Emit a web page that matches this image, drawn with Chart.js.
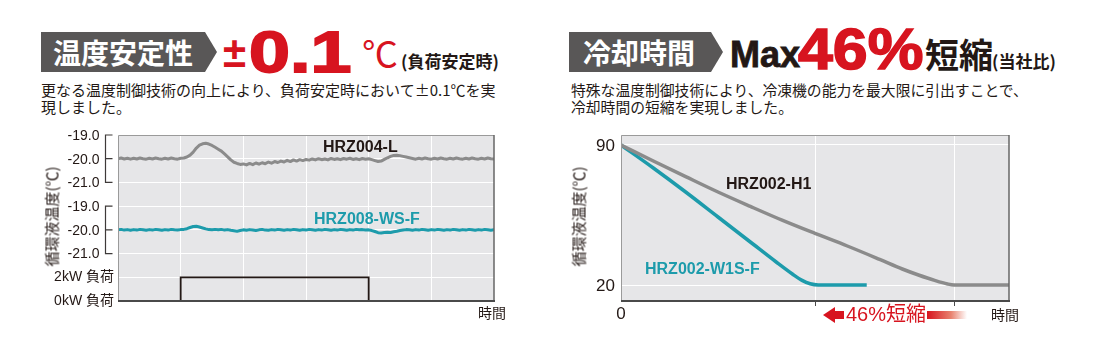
<!DOCTYPE html>
<html lang="ja">
<head>
<meta charset="utf-8">
<title>温度安定性・冷却時間</title>
<script src="https://cdn.jsdelivr.net/npm/chart.js@4.4.1/dist/chart.umd.min.js"></script>
<style>
  html, body { margin: 0; padding: 0; background: #fff; }
  #page { position: relative; width: 1100px; height: 355px; overflow: hidden; color: #231815;
          font-family: "Noto Sans CJK JP", sans-serif; }
  .abs { position: absolute; white-space: nowrap; line-height: 1; }
  canvas { position: absolute; top: 120px; }
  .tag { position: absolute; top: 32px; height: 40px; background: #595757; color: #fff; font-weight: 700;
         font-size: 28px; line-height: 40px; box-sizing: border-box;
         clip-path: polygon(0 0, calc(100% - 12px) 0, 100% 50%, calc(100% - 12px) 100%, 0 100%); }
  .big { font-family: "Liberation Sans", Arial, sans-serif; font-weight: 700; transform-origin: left center; }
  .red { color: #d7141f; }
  .desc { position: absolute; top: 82px; font-size: 15px; line-height: 16.5px; white-space: nowrap; }
  .ytitle { position: absolute; width: 110px; height: 15px; line-height: 15px; font-size: 15px;
            text-align: center; transform: rotate(-90deg); white-space: nowrap; }
  .lbl { position: absolute; font-family: "Liberation Sans", Arial, sans-serif; font-weight: 700;
         font-size: 16px; line-height: 1; white-space: nowrap; }
</style>
</head>
<body>
<div id="page">
  <canvas id="stabilityChart" width="550" height="235" style="left:0"></canvas>
  <canvas id="coolingChart" width="550" height="235" style="left:550px"></canvas>

  <!-- 左：温度安定性 -->
  <div class="tag" style="left:41px; width:176px; padding-left:12px;">温度安定性</div>
  <div class="abs red" style="left:223px; top:32px; font-size:42px; font-weight:700; font-family:'Liberation Sans',Arial,sans-serif;">±</div>
  <div class="abs big red" style="left:249px; top:23px; font-size:58px; transform:scaleX(1.27); -webkit-text-stroke:1.8px #d7141f;">0.1</div>
  <div class="abs red" style="left:362px; top:34px; font-size:36px;">℃</div>
  <div class="abs" style="left:401px; top:52px; font-size:17px; font-weight:700;">(負荷安定時)</div>
  <div class="desc" style="left:41px;">更なる温度制御技術の向上により、負荷安定時において±0.1℃を実<br>現しました。</div>
  <div class="ytitle" style="left:-4px; top:209px;">循環液温度(℃)</div>
  <div class="lbl" style="left:323px; top:139px;">HRZ004-L</div>
  <div class="lbl" style="left:314px; top:211px; color:#1d9bab;">HRZ008-WS-F</div>
  <div class="abs" style="left:478px; top:305px; font-size:14px;">時間</div>

  <!-- 右：冷却時間 -->
  <div class="tag" style="left:569px; width:154px; padding-left:14px;">冷却時間</div>
  <div class="abs big" style="left:730px; top:37px; font-size:36px; -webkit-text-stroke:0.8px #231815;">Max</div>
  <div class="abs big red" style="left:798px; top:21px; font-size:57px; transform:scaleX(1.1); -webkit-text-stroke:1.5px #d7141f;">46%</div>
  <div class="abs" style="left:925px; top:37px; font-size:34px; font-weight:700;">短縮</div>
  <div class="abs" style="left:992px; top:52px; font-size:17px; font-weight:700;">(当社比)</div>
  <div class="desc" style="left:571px; font-size:14.8px;">特殊な温度制御技術により、冷凍機の能力を最大限に引出すことで、<br>冷却時間の短縮を実現しました。</div>
  <div class="ytitle" style="left:523px; top:209px;">循環液温度(℃)</div>
  <div class="lbl" style="left:726px; top:176px;">HRZ002-H1</div>
  <div class="lbl" style="left:645px; top:261px; color:#1d9bab;">HRZ002-W1S-F</div>
  <div style="position:absolute; left:823px; top:307px; width:0; height:0; border-right:12px solid #d7141f; border-top:8px solid transparent; border-bottom:8px solid transparent;"></div>
  <div style="position:absolute; left:834px; top:311px; width:10px; height:8px; background:#d7141f;"></div>
  <div class="abs red" style="left:846px; top:304px; font-size:20px; font-family:'Liberation Sans','Noto Sans CJK JP',sans-serif;">46%短縮</div>
  <div style="position:absolute; left:927px; top:311px; width:40px; height:8px; background:linear-gradient(to right, #d7141f, #e8826f 60%, #ffffff);"></div>
  <div class="abs" style="left:991px; top:307px; font-size:14px;">時間</div>
</div>

<script>
// ---------------------------- データ：温度安定性 (0.5目盛ごとのサンプル) ----------------------------
const hrz004L = [
  -20.00, -19.97, -20.01, -19.98, -20.02, -19.98, -20.01, -19.97, -20.00, -20.02,
  -19.98, -20.01, -19.97, -20.00, -20.02, -19.98, -20.01, -19.97, -20.00, -20.02,
  -19.98,
  -19.97, -19.93, -19.85, -19.72, -19.55, -19.43, -19.37, -19.35, -19.38, -19.44,
  -19.52, -19.60, -19.68, -19.80, -19.92, -20.05, -20.15, -20.20, -20.24, -20.22,
  -20.26, -20.20, -20.25, -20.18, -20.23, -20.17, -20.21, -20.14, -20.19, -20.12,
  -20.16, -20.10, -20.14, -20.07, -20.12, -20.05, -20.10, -20.04, -20.08, -20.03,
  -20.06, -20.01, -20.05, -20.00, -20.04, -20.01, -20.05, -19.99, -20.03, -20.00,
  -20.04, -19.99, -20.02, -19.98, -20.03, -20.00, -20.04, -19.99, -20.02, -20.00,
  -20.04, -20.08, -20.12, -20.10, -20.03, -19.96, -19.90, -19.86, -19.85, -19.87,
  -19.90, -19.93, -19.96, -19.99, -20.02, -19.98, -20.01, -19.97, -20.00, -20.02,
  -19.98, -20.01, -19.97, -20.00, -20.02, -19.98, -20.01, -19.97, -20.00, -20.02,
  -19.98, -20.01, -19.97, -20.00, -20.02, -19.98, -20.01, -19.97, -20.00, -20.01
];
const hrz008WSF = [
  -20.00, -19.98, -20.01, -19.99, -20.02, -19.99, -20.01, -19.98, -20.00, -20.02,
  -19.99, -20.01, -19.98, -20.00, -20.02, -19.99, -20.01, -19.98, -20.00, -20.01,
  -19.99,
  -19.98, -19.95, -19.90, -19.86, -19.85, -19.88, -19.92, -19.96, -19.99, -20.00,
  -19.98, -20.00, -19.98, -20.01, -19.99, -20.02, -20.04, -20.06, -20.03, -20.00,
  -20.02, -19.99, -20.01, -20.03, -20.00, -19.98, -20.01, -20.02, -19.99, -20.01,
  -19.98, -20.00, -20.02, -19.99, -20.01, -19.98, -20.00, -20.02, -19.99, -20.01,
  -19.98, -20.00, -20.02, -19.99, -20.01, -19.98, -20.00, -20.02, -19.99, -20.01,
  -19.98, -20.00, -20.02, -19.99, -20.01, -19.98, -20.00, -19.99, -20.01, -20.00,
  -20.03, -20.07, -20.12, -20.13, -20.11, -20.10, -20.11, -20.08, -20.06, -20.03,
  -20.01, -19.99, -20.00, -20.02, -19.99, -20.01, -19.98, -20.00, -20.02, -19.99,
  -20.01, -19.98, -20.00, -20.02, -19.99, -20.01, -19.98, -20.00, -20.02, -19.99,
  -20.01, -19.98, -20.00, -20.02, -19.99, -20.01, -19.98, -20.00, -20.02, -20.00
];
const loadTimes = [0, 20, 80, 120];   // サンプル番号
const loadKw = [0, 2, 0, 0];
const tempTicks = [-21.0, -20.0, -19.0];
const loadTicks = [0, 2];
const loadTickLabels = ['0kW 負荷', '2kW 負荷'];
const upperOffset = 26;   // HRZ004-L の帯
const lowerOffset = 23;   // HRZ008-WS-F の帯

// ---------------------------- データ：冷却時間 ----------------------------
const h1Times = [0, 10, 20, 30, 40, 50, 60, 70, 80, 87, 92, 97, 101, 103, 120];
const h1Temps = [90, 82, 74.2, 66.5, 59.3, 52.3, 45.8, 39.5, 32.8, 28, 25, 22.3, 20.5, 20, 20];
const w1sTimes = [0, 10, 20, 30, 40, 48, 53, 56, 58.5, 61, 76];
const w1sTemps = [90, 78.5, 66.5, 54, 41.5, 31.5, 25.5, 22.3, 20.6, 20, 20];
const coolTicks = [20, 90];
const coolMarks = [60, 103];

const GRAY = '#8b8b8b';
const TEAL = '#1d9bab';
const INK = '#231815';

// ---------------------------- プラグイン ----------------------------
const plotPanel = {
  id: 'plotPanel',
  beforeDraw(chart) {
    const { ctx, chartArea: a } = chart;
    ctx.save();
    ctx.fillStyle = '#e6e6e8';
    ctx.fillRect(a.left, a.top, a.right - a.left, a.bottom - a.top);
    ctx.restore();
  },
  afterDatasetsDraw(chart) {
    const { ctx, chartArea: a } = chart;
    ctx.save();
    ctx.strokeStyle = '#9a9a9a';
    ctx.lineWidth = 1;
    ctx.beginPath();
    ctx.moveTo(a.left + 0.5, a.bottom);
    ctx.lineTo(a.left + 0.5, a.top + 0.5);
    ctx.lineTo(a.right, a.top + 0.5);
    ctx.stroke();
    ctx.strokeStyle = '#666';
    ctx.lineWidth = 1.5;
    ctx.beginPath();
    ctx.moveTo(a.right, a.top);
    ctx.lineTo(a.right, a.bottom);
    ctx.stroke();
    ctx.strokeStyle = '#4a4a4a';
    ctx.lineWidth = 2;
    ctx.beginPath();
    ctx.moveTo(a.left, a.bottom);
    ctx.lineTo(a.right + 1, a.bottom);
    ctx.stroke();
    ctx.restore();
  }
};

const stabilityAxis = {
  id: 'stabilityAxis',
  afterDraw(chart) {
    const { ctx, chartArea: a, scales: { y } } = chart;
    ctx.save();
    ctx.font = '14px "Liberation Sans", "Noto Sans CJK JP", sans-serif';
    ctx.fillStyle = INK;
    ctx.textAlign = 'right';
    ctx.textBaseline = 'middle';
    loadTicks.forEach((kw, i) => ctx.fillText(loadTickLabels[i], a.left - 4, y.getPixelForValue(kw / 2)));
    const bx = a.left - 12.5;
    [upperOffset, lowerOffset].forEach(off => {
      const px = tempTicks.map(t => y.getPixelForValue(t + off));
      tempTicks.forEach((t, i) => ctx.fillText(t.toFixed(1), bx - 6, px[i] + 1));
      ctx.strokeStyle = '#3e3a39';
      ctx.lineWidth = 1.2;
      ctx.beginPath();
      ctx.moveTo(bx + 7, px[0]);
      ctx.lineTo(bx, px[0]);
      ctx.lineTo(bx, px[2]);
      ctx.lineTo(bx + 7, px[2]);
      ctx.moveTo(bx, px[1]);
      ctx.lineTo(bx + 7, px[1]);
      ctx.stroke();
    });
    ctx.restore();
  }
};

const coolingAxis = {
  id: 'coolingAxis',
  afterDraw(chart) {
    const { ctx, chartArea: a, scales: { x, y } } = chart;
    ctx.save();
    ctx.font = '17px "Liberation Sans", Arial, sans-serif';
    ctx.fillStyle = INK;
    ctx.textAlign = 'right';
    ctx.textBaseline = 'middle';
    coolTicks.forEach(t => ctx.fillText(String(t), a.left - 6, y.getPixelForValue(t) + 1));
    ctx.textAlign = 'center';
    ctx.textBaseline = 'top';
    ctx.fillText('0', x.getPixelForValue(0), a.bottom + 5);
    ctx.restore();
  }
};

// ---------------------------- 温度安定性グラフ ----------------------------
new Chart(document.getElementById('stabilityChart'), {
  type: 'line',
  data: {
    datasets: [
      {
        label: 'HRZ004-L',
        data: hrz004L.map((v, i) => ({ x: i, y: v + upperOffset })),
        borderColor: GRAY, borderWidth: 3, borderJoinStyle: 'round', borderCapStyle: 'round'
      },
      {
        label: 'HRZ008-WS-F',
        data: hrz008WSF.map((v, i) => ({ x: i, y: v + lowerOffset })),
        borderColor: TEAL, borderWidth: 3, borderJoinStyle: 'round', borderCapStyle: 'round'
      },
      {
        label: '負荷',
        data: loadTimes.map((t, i) => ({ x: t, y: loadKw[i] / 2 })),
        borderColor: INK, borderWidth: 1.8, stepped: true
      }
    ]
  },
  options: {
    responsive: false,
    animation: false,
    devicePixelRatio: 1,
    layout: { padding: { left: 118, right: 56, top: 15, bottom: 54 } },
    elements: { point: { radius: 0 }, line: { tension: 0 } },
    plugins: { legend: { display: false }, tooltip: { enabled: false } },
    scales: {
      x: {
        type: 'linear', min: 0, max: 120,
        ticks: { display: false, stepSize: 20 },
        grid: { color: '#ffffff', lineWidth: 1, drawTicks: false },
        border: { display: false }
      },
      y: {
        type: 'linear', min: 0, max: 7,
        ticks: { display: false, stepSize: 1 },
        grid: { color: '#ffffff', lineWidth: 1, drawTicks: false },
        border: { display: false }
      }
    }
  },
  plugins: [plotPanel, stabilityAxis]
});

// ---------------------------- 冷却時間グラフ ----------------------------
new Chart(document.getElementById('coolingChart'), {
  type: 'line',
  data: {
    datasets: [
      {
        label: 'HRZ002-H1',
        data: h1Times.map((t, i) => ({ x: t, y: h1Temps[i] })),
        borderColor: GRAY, borderWidth: 3.5, cubicInterpolationMode: 'monotone'
      },
      {
        label: 'HRZ002-W1S-F',
        data: w1sTimes.map((t, i) => ({ x: t, y: w1sTemps[i] })),
        borderColor: TEAL, borderWidth: 3.5, cubicInterpolationMode: 'monotone'
      }
    ]
  },
  options: {
    responsive: false,
    animation: false,
    devicePixelRatio: 1,
    layout: { padding: { left: 71, right: 91, top: 15, bottom: 49 } },
    elements: { point: { radius: 0 } },
    plugins: { legend: { display: false }, tooltip: { enabled: false } },
    scales: {
      x: {
        type: 'linear', min: 0, max: 120,
        afterBuildTicks: scale => { scale.ticks = coolMarks.map(v => ({ value: v })); },
        ticks: { display: false },
        grid: { color: '#ffffff', lineWidth: 1, drawTicks: true, tickLength: 5, tickColor: '#4a4a4a' },
        border: { display: false }
      },
      y: {
        type: 'linear', min: 12, max: 95,
        afterBuildTicks: scale => { scale.ticks = coolTicks.map(v => ({ value: v })); },
        ticks: { display: false },
        grid: { color: '#ffffff', lineWidth: 1, drawTicks: false },
        border: { display: false }
      }
    }
  },
  plugins: [plotPanel, coolingAxis]
});
</script>
</body>
</html>
